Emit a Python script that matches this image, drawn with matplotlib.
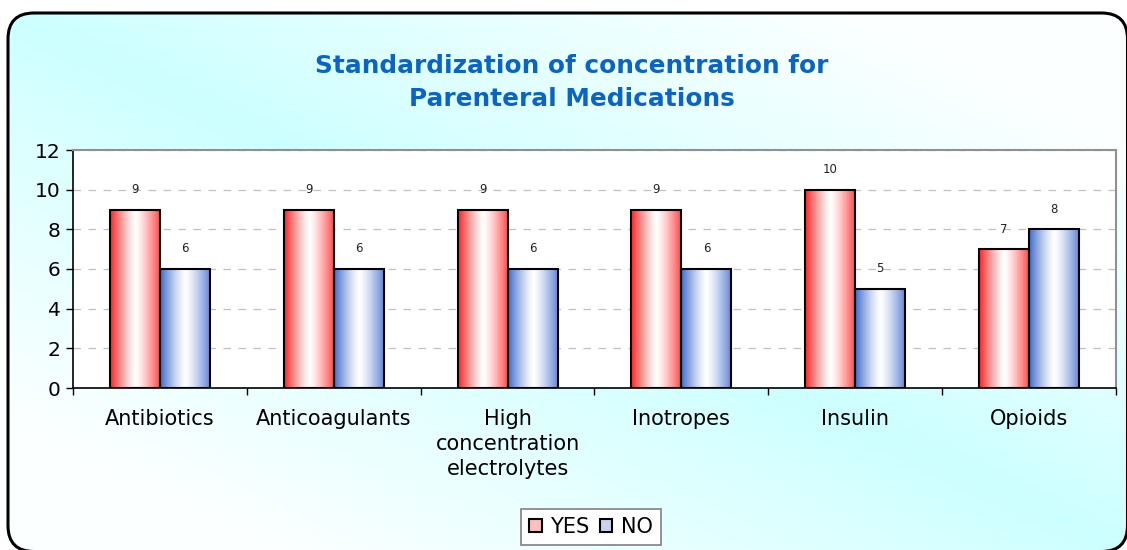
import numpy as np
import matplotlib
matplotlib.use("Agg")
import matplotlib.pyplot as plt
from matplotlib.patches import FancyBboxPatch, Rectangle

categories = ["Antibiotics", "Anticoagulants", "High\nconcentration\nelectrolytes",
              "Inotropes", "Insulin", "Opioids"]
yes_values = [9, 9, 9, 9, 10, 7]
no_values = [6, 6, 6, 6, 5, 8]
series_names = ["YES", "NO"]
title = "Standardization of concentration for\nParenteral Medications"

W, H, DPI = 1127, 550, 100
fig = plt.figure(figsize=(W / DPI, H / DPI), dpi=DPI)

# background gradient (pixel coords, y up)
bg = fig.add_axes([0, 0, 1, 1], zorder=-10)
bg.set_xlim(0, W)
bg.set_ylim(0, H)
bg.axis("off")
u = np.linspace(0, 1, 300)[None, :]
v = np.linspace(0, 1, 150)[:, None]   # v=0 top row
t = np.clip(np.abs(u - v) * 1.3, 0, 1) ** 0.9
cyan = np.array([0.80, 1.0, 1.0])
white = np.array([0.99, 1.0, 1.0])
img = cyan[None, None, :] * (1 - t[..., None]) + white[None, None, :] * t[..., None]
R = 26
fx0, fx1 = 8, 1127.5
fy_top, fy_bot = H - 13, H - 551.5
frame = FancyBboxPatch((fx0 + R, fy_bot + R), fx1 - fx0 - 2 * R, fy_top - fy_bot - 2 * R,
                       boxstyle="round,pad=%d" % R, linewidth=2.2, edgecolor="black",
                       facecolor="none", zorder=2)
bg.imshow(np.ones((2, 2, 3)), extent=(0, W, 0, H), aspect="auto", zorder=0)
im = bg.imshow(img, extent=(fx0, fx1, fy_bot, fy_top), origin="upper", aspect="auto", zorder=1)
bg.add_patch(frame)
im.set_clip_path(frame)

ax = fig.add_axes([73 / W, 1 - 388 / H, (1116 - 73) / W, (388 - 150) / H])
ax.set_facecolor("white")
x = np.arange(len(categories))
bw = 0.288

red = np.array([1.0, 0.13, 0.13])
blue = np.array([0.25, 0.42, 0.80])


def grad(col):
    s = np.linspace(0, 1, 200)
    inten = np.where(s < 0.5, ((0.5 - s) / 0.5) ** 1.3, ((s - 0.5) / 0.5) ** 1.3 * 0.85)
    c = np.ones((1, 200, 3)) * (1 - inten[None, :, None]) + col[None, None, :] * inten[None, :, None]
    return c


for vals, off, col in [(yes_values, -bw / 2, red), (no_values, bw / 2, blue)]:
    bars = ax.bar(x + off, vals, width=bw, facecolor="none", edgecolor="black",
                  linewidth=1.5, zorder=4)
    g = grad(col)
    for b, val in zip(bars, vals):
        x0, y0 = b.get_x(), b.get_y()
        ax.imshow(g, extent=(x0, x0 + b.get_width(), y0, y0 + b.get_height()),
                  aspect="auto", zorder=3, interpolation="bilinear")
        ax.annotate(str(val), (x0 + b.get_width() / 2, val), xytext=(0, 14.5),
                    textcoords="offset points", ha="center", va="center",
                    fontsize=8.5, color="#222222")

ax.set_xlim(-0.5, len(categories) - 0.5)
ax.set_ylim(0, 12)
ax.set_yticks(range(0, 13, 2))
ax.yaxis.grid(True, linestyle=(0, (6, 6)), color="#c0c0c0", linewidth=0.9)
ax.set_axisbelow(True)
ax.set_xticks(x)
ax.set_xticklabels(categories, fontsize=15, linespacing=1.32)
ax.tick_params(axis="x", length=0, pad=15)
ax.set_xticks(np.arange(-0.5, len(categories), 1), minor=True)
ax.tick_params(axis="x", which="minor", length=5, width=1, color="black")
ax.tick_params(axis="y", labelsize=14.5, length=5, width=1, pad=4)
for s in ["top", "right"]:
    ax.spines[s].set_color("#909090")
    ax.spines[s].set_linewidth(1.5)
for s in ["left", "bottom"]:
    ax.spines[s].set_color("black")
    ax.spines[s].set_linewidth(1.2)

fig.text(572 / W, 1 - 82.5 / H, title, ha="center", va="center", fontsize=17.8,
         fontweight="bold", color="#0a64c8", linespacing=1.45)

handles = [Rectangle((0, 0), 1, 1, facecolor="#ffc0c0", edgecolor="black", linewidth=1.5),
           Rectangle((0, 0), 1, 1, facecolor="#c8d4ee", edgecolor="black", linewidth=1.5)]
leg = fig.legend(handles, series_names, loc="center", bbox_to_anchor=(591 / W, 1 - 527 / H),
                 ncol=2, fontsize=15, frameon=True, fancybox=False, handlelength=0.6,
                 handleheight=0.6, handletextpad=0.4, columnspacing=0.5,
                 borderpad=0.4, borderaxespad=0, edgecolor="#808080", framealpha=1)
leg.get_frame().set_linewidth(1.2)

fig.savefig("out.png", dpi=DPI)
